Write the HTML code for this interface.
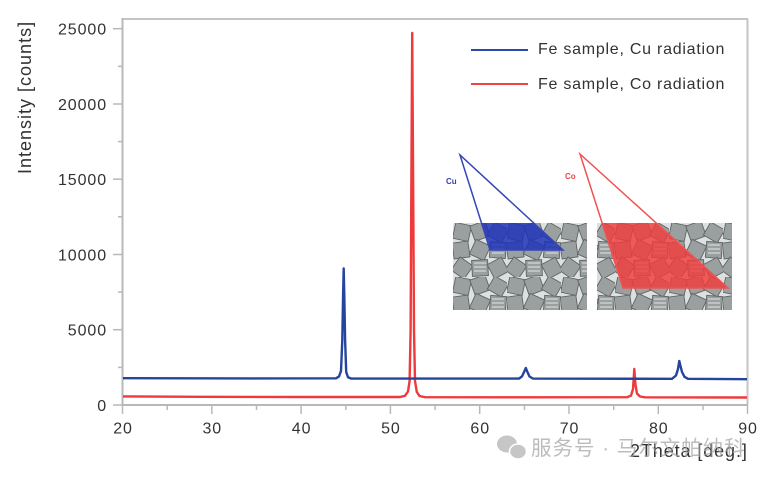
<!DOCTYPE html>
<html>
<head>
<meta charset="utf-8">
<style>
html,body{margin:0;padding:0;background:#fff;}
body{width:780px;height:480px;overflow:hidden;}
svg{display:block;}
.t{font-family:"Liberation Sans","Noto Sans CJK SC",sans-serif;fill:#333;}
</style>
</head>
<body>
<svg width="780" height="480" viewBox="0 0 780 480" xmlns="http://www.w3.org/2000/svg">
<defs>
  <pattern id="grains" x="453" y="223" width="54" height="54" patternUnits="userSpaceOnUse">
    <rect width="54" height="54" fill="#dde0e0"/>
    <g fill="#9a9f9f" stroke="#5f6363" stroke-width="0.9">
      <rect x="1" y="1" width="16" height="16" transform="rotate(12 9 9)"/>
      <rect x="19" y="0" width="16" height="16" transform="rotate(-20 27 8)"/>
      <rect x="37" y="2" width="16" height="15" transform="rotate(30 45 9.5)"/>
      <rect x="0" y="19" width="16" height="16" transform="rotate(-8 8 27)"/>
      <rect x="19" y="19" width="16" height="16" transform="rotate(25 27 27)"/>
      <rect x="37" y="19" width="16" height="16" transform="rotate(5 45 27)"/>
      <rect x="1" y="37" width="16" height="16" transform="rotate(35 9 45)"/>
      <rect x="19" y="37" width="16" height="16" transform="rotate(-3 27 45)"/>
      <rect x="37" y="37" width="16" height="16" transform="rotate(-28 45 45)"/>
    </g>
    <g stroke="#e2e4e4" stroke-width="1">
      <line x1="21" y1="40" x2="33" y2="40"/><line x1="21" y1="44" x2="33" y2="44"/><line x1="21" y1="48" x2="33" y2="48"/>
      <line x1="39" y1="22" x2="51" y2="22"/><line x1="39" y1="26" x2="51" y2="26"/><line x1="39" y1="30" x2="51" y2="30"/>
    </g>
  </pattern>
  <clipPath id="cl"><rect x="453" y="223" width="134" height="87"/></clipPath>
  <clipPath id="cr"><rect x="597" y="223" width="135" height="87"/></clipPath>
</defs>

<!-- frame -->
<g stroke="#c4c4c4" stroke-width="2" fill="none">
  <line x1="122.5" y1="19" x2="748" y2="19"/>
  <line x1="747.5" y1="19" x2="747.5" y2="405"/>
</g>
<g stroke="#b8b8b8" stroke-width="2" fill="none">
  <line x1="122.5" y1="18" x2="122.5" y2="406"/>
  <line x1="122" y1="405" x2="748" y2="405"/>
</g>

<!-- y ticks -->
<g stroke="#b8b8b8" stroke-width="1.5">
  <line x1="113" y1="405" x2="122" y2="405"/>
  <line x1="113" y1="329.7" x2="122" y2="329.7"/>
  <line x1="113" y1="254.5" x2="122" y2="254.5"/>
  <line x1="113" y1="179.2" x2="122" y2="179.2"/>
  <line x1="113" y1="104" x2="122" y2="104"/>
  <line x1="113" y1="28.7" x2="122" y2="28.7"/>
  <line x1="118" y1="367.4" x2="122" y2="367.4"/>
  <line x1="118" y1="292.1" x2="122" y2="292.1"/>
  <line x1="118" y1="216.8" x2="122" y2="216.8"/>
  <line x1="118" y1="141.6" x2="122" y2="141.6"/>
  <line x1="118" y1="66.3" x2="122" y2="66.3"/>
</g>
<!-- x ticks -->
<g stroke="#b8b8b8" stroke-width="1.5">
  <line x1="122.5" y1="405" x2="122.5" y2="414"/>
  <line x1="211.8" y1="405" x2="211.8" y2="414"/>
  <line x1="301.1" y1="405" x2="301.1" y2="414"/>
  <line x1="390.4" y1="405" x2="390.4" y2="414"/>
  <line x1="479.7" y1="405" x2="479.7" y2="414"/>
  <line x1="569" y1="405" x2="569" y2="414"/>
  <line x1="658.3" y1="405" x2="658.3" y2="414"/>
  <line x1="747.5" y1="405" x2="747.5" y2="414"/>
  <line x1="167.2" y1="405" x2="167.2" y2="410"/>
  <line x1="256.5" y1="405" x2="256.5" y2="410"/>
  <line x1="345.8" y1="405" x2="345.8" y2="410"/>
  <line x1="435.1" y1="405" x2="435.1" y2="410"/>
  <line x1="524.4" y1="405" x2="524.4" y2="410"/>
  <line x1="613.7" y1="405" x2="613.7" y2="410"/>
  <line x1="703" y1="405" x2="703" y2="410"/>
</g>

<!-- y labels -->
<g class="t" font-size="16" letter-spacing="0.9" text-anchor="end">
  <text x="107" y="411">0</text>
  <text x="107" y="335.7">5000</text>
  <text x="107" y="260.5">10000</text>
  <text x="107" y="185.2">15000</text>
  <text x="107" y="110">20000</text>
  <text x="107" y="34.7">25000</text>
</g>
<!-- x labels -->
<g class="t" font-size="16" letter-spacing="0.9" text-anchor="middle">
  <text x="123" y="433.5">20</text>
  <text x="212.3" y="433.5">30</text>
  <text x="301.6" y="433.5">40</text>
  <text x="390.9" y="433.5">50</text>
  <text x="480.2" y="433.5">60</text>
  <text x="569.5" y="433.5">70</text>
  <text x="658.8" y="433.5">80</text>
  <text x="748" y="433.5">90</text>
</g>

<!-- axis titles -->
<text class="t" font-size="18" letter-spacing="1" transform="translate(31,174) rotate(-90)">Intensity [counts]</text>
<text class="t" font-size="18" letter-spacing="0.9" x="630" y="457">2Theta [deg.]</text>

<!-- legend -->
<line x1="471" y1="50" x2="528" y2="50" stroke="#2a4aa6" stroke-width="2"/>
<line x1="471" y1="84" x2="528" y2="84" stroke="#f04444" stroke-width="2"/>
<text class="t" font-size="16" letter-spacing="0.75" x="538" y="54">Fe sample, Cu radiation</text>
<text class="t" font-size="16" letter-spacing="0.75" x="538" y="89">Fe sample, Co radiation</text>

<!-- inset -->
<rect x="453" y="223" width="134" height="87" fill="url(#grains)"/>
<rect x="597" y="223" width="135" height="87" fill="url(#grains)"/>
<polygon points="481.5,223 533.7,223 563,250 490,250" fill="#1f33b8" fill-opacity="0.85" clip-path="url(#cl)"/>
<polygon points="460,155 490,250 563,250" fill="none" stroke="#3547b5" stroke-width="1.5"/>
<polygon points="602,223 656,223 728,288 623,288" fill="#f23c3c" fill-opacity="0.82" clip-path="url(#cr)"/>
<polygon points="580,154 623,288 728,288" fill="none" stroke="#f05252" stroke-width="1.5"/>
<text x="446" y="184" font-family="Liberation Sans, sans-serif" font-size="8" font-weight="bold" fill="#2f45b0">Cu</text>
<text x="565" y="179" font-family="Liberation Sans, sans-serif" font-size="8" font-weight="bold" fill="#f04444">Co</text>

<!-- red series -->
<polyline fill="none" stroke="#ee3a3a" stroke-width="2.4" stroke-linejoin="round"
 points="123,396.4 200,396.8 300,397 400,397 405,395.8 408,391.5 409.6,381 410.6,330 411.5,160 412.2,33 413,160 414,330 415,381 416.8,392 419.5,396 425,397.2 520,397.3 627,397.2 631,395.6 633,389 634.3,369 635.5,385 637,393.5 640,396.5 645,397.3 747,397.5"/>

<!-- blue series -->
<polyline fill="none" stroke="#24449e" stroke-width="2.4" stroke-linejoin="round"
 points="123,378.2 250,378.4 336,378.3 339,376.5 341,371 342.3,340 343.1,295 343.7,268.5 344.3,295 345.1,340 346.2,372 348,377.3 351,378.5 519,378.6 522,376.4 524.5,371 525.8,368 527.2,371.5 529.5,376.5 533,378.6 672,378.8 676,375.5 678,369 679.3,361 680.5,366 682,372 684.5,376.8 688,378.8 747,379.2"/>

<!-- watermark -->
<g opacity="0.75">
  <ellipse cx="507" cy="444" rx="10" ry="8.5" fill="#b3b3b3"/>
  <ellipse cx="518" cy="451.5" rx="8.5" ry="7.5" fill="#b3b3b3" stroke="#fff" stroke-width="1.5"/>
  <text x="531" y="455" font-family="Liberation Sans, 'Noto Sans CJK SC', sans-serif" font-size="20.5" fill="#a6a6a6" letter-spacing="1">服务号 · 马尔文帕纳科</text>
</g>
</svg>
</body>
</html>
